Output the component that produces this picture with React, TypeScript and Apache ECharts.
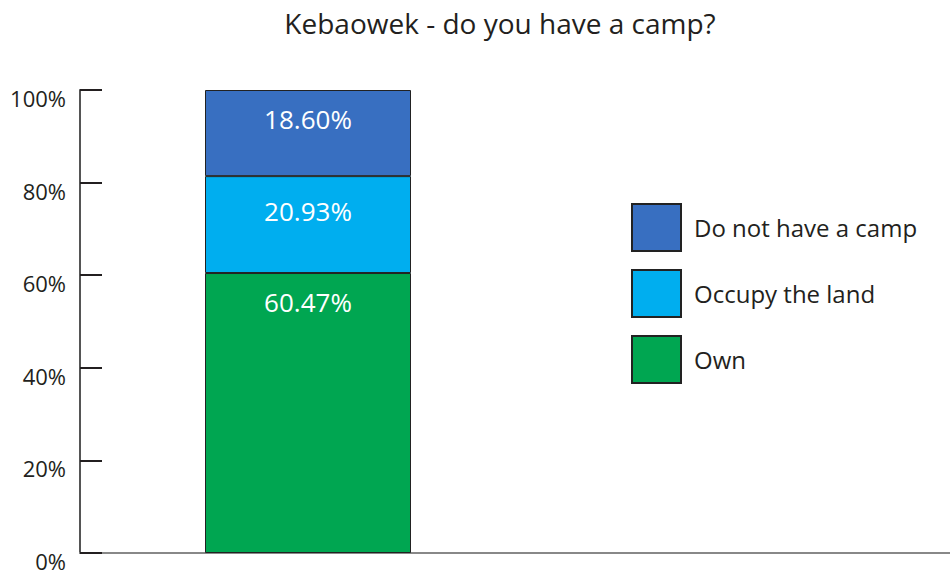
import React, { useEffect, useRef } from "react";
import * as echarts from "echarts";

const categories = ["Kebaowek"];
const seriesNames = ["Own", "Occupy the land", "Do not have a camp"];
const ownValues = [60.47];
const occupyValues = [20.93];
const noCampValues = [18.6];
const legendOrder = ["Do not have a camp", "Occupy the land", "Own"];
const colors = ["#00A651", "#00AEEF", "#386FC1"];
const labelDistances = [16, 22, 16];

export default function App() {
  const ref = useRef<HTMLDivElement>(null);
  useEffect(() => {
    if (!ref.current) return;
    const chart = echarts.init(ref.current, null, { renderer: "svg" });
    const font = "'Open Sans', 'Noto Sans', sans-serif";
    const values = [ownValues, occupyValues, noCampValues];
    chart.setOption({
      animation: false,
      title: {
        text: "Kebaowek - do you have a camp?",
        left: 495,
        textAlign: "center",
        top: 4,
        textStyle: { fontFamily: font, fontSize: 28, fontWeight: "normal", color: "#231f20" },
      },
      legend: {
        data: legendOrder,
        orient: "vertical",
        left: 631,
        top: 203,
        padding: 0,
        itemWidth: 49,
        itemHeight: 47,
        itemGap: 17,
        icon: "rect",
        textStyle: { fontFamily: font, fontSize: 24, color: "#231f20", padding: [8, 0, 0, 8] },
      },
      grid: [
        { left: 80, right: 414, top: 90, bottom: 24, containLabel: false },
        { left: 80, right: 0, top: 90, bottom: 24, containLabel: false },
      ],
      xAxis: [
        {
          type: "category",
          gridIndex: 0,
          data: categories,
          axisLine: { show: false },
          axisTick: { show: false },
          axisLabel: { show: false },
        },
        {
          type: "category",
          gridIndex: 1,
          data: categories,
          axisLine: { show: true, lineStyle: { color: "#888", width: 2 } },
          axisTick: { show: false },
          axisLabel: { show: false },
        },
      ],
      yAxis: [
        {
          type: "value",
          gridIndex: 0,
          min: 0,
          max: 100,
          interval: 20,
          axisLine: { show: true, lineStyle: { color: "#555", width: 2 } },
          axisTick: { show: true, inside: true, length: 22, lineStyle: { color: "#231f20", width: 2 } },
          splitLine: { show: false },
          axisLabel: {
            formatter: "{value}%",
            fontFamily: font,
            fontSize: 22,
            color: "#231f20",
            margin: 14,
            verticalAlign: "top",
            padding: [-3, 0, 0, 0],
          },
        },
        {
          type: "value",
          gridIndex: 1,
          min: 0,
          max: 100,
          interval: 20,
          show: false,
        },
      ],
      series: seriesNames.map((name, i) => ({
        name,
        type: "bar",
        stack: "total",
        xAxisIndex: 0,
        yAxisIndex: 0,
        barWidth: 206,
        data: values[i],
        itemStyle: { color: colors[i], borderColor: "#222", borderWidth: 1 },
        label: {
          show: true,
          position: "insideTop",
          distance: labelDistances[i],
          formatter: (p: any) => Number(p.value).toFixed(2) + "%",
          fontFamily: font,
          fontSize: 26,
          color: "#fff",
        },
      })),
    });
    return () => chart.dispose();
  }, []);
  return (
    <div
      ref={ref}
      style={{ position: "fixed", left: 0, top: 0, width: 950, height: 577, background: "#fff" }}
    />
  );
}
